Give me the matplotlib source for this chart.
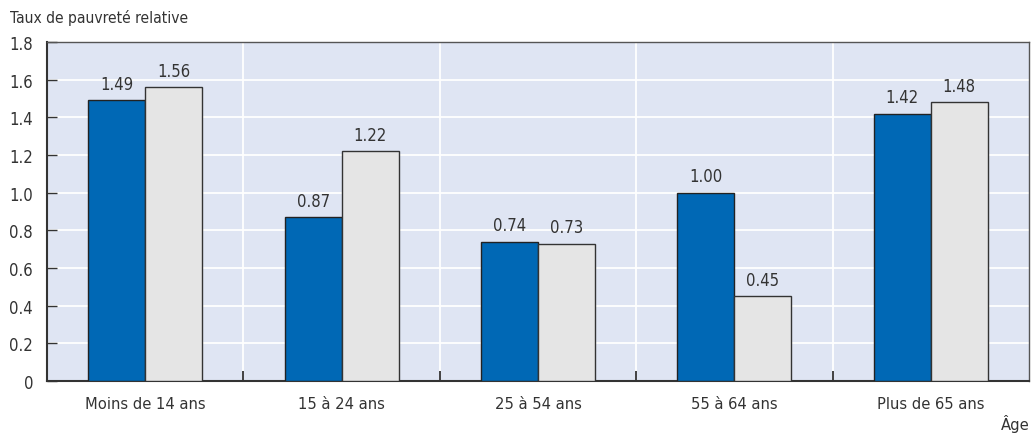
import matplotlib
matplotlib.use("Agg")
import matplotlib.pyplot as plt
import numpy as np

categories = ["Moins de 14 ans", "15 à 24 ans", "25 à 54 ans", "55 à 64 ans", "Plus de 65 ans"]
series_a = [1.49, 0.87, 0.74, 1.00, 1.42]
series_b = [1.56, 1.22, 0.73, 0.45, 1.48]
yticks = [0, 0.2, 0.4, 0.6, 0.8, 1.0, 1.2, 1.4, 1.6, 1.8]
ytick_labels = ["0", "0.2", "0.4", "0.6", "0.8", "1.0", "1.2", "1.4", "1.6", "1.8"]

plt.rcParams['font.family'] = ['DejaVu Sans']
plt.rcParams['font.stretch'] = 'condensed'
text_color = "#333333"
blue = "#0068b5"
grey = "#e5e5e5"
bg = "#dfe5f3"

fig = plt.figure(figsize=(10.35, 4.35), dpi=100)
ax = fig.add_axes([47/1035, 53/435, 982/1035, 339/435])
ax.set_facecolor(bg)

x = np.arange(len(categories))
w = 0.29
bars_a = ax.bar(x - w/2, series_a, w, color=blue, edgecolor="#222222", linewidth=1.0, zorder=3)
bars_b = ax.bar(x + w/2, series_b, w, color=grey, edgecolor="#333333", linewidth=1.0, zorder=3)

for b, v in zip(bars_a, series_a):
    ax.text(b.get_x() + b.get_width()/2, v + 0.04, f"{v:.2f}", ha="center", va="bottom",
            fontsize=12, color=text_color, zorder=4)
for b, v in zip(bars_b, series_b):
    ax.text(b.get_x() + b.get_width()/2, v + 0.04, f"{v:.2f}", ha="center", va="bottom",
            fontsize=12, color=text_color, zorder=4)

ax.set_xlim(-0.5, len(categories) - 0.5)
ax.set_ylim(0, 1.8)
ax.set_yticks(yticks)
ax.set_yticklabels(ytick_labels)
ax.grid(axis="y", color="white", linewidth=1.3, zorder=1)

# white separators between age groups, with short ticks at the base
bounds = np.arange(0.5, len(categories) - 0.5, 1)
for bx in bounds:
    ax.axvline(bx, color="white", linewidth=1.3, zorder=1)
ax.set_xticks(bounds, minor=True)
ax.set_xticks(x)
ax.set_xticklabels(categories)
ax.tick_params(axis="x", which="major", length=0, pad=11, labelsize=11.8, labelcolor=text_color)
ax.tick_params(axis="x", which="minor", direction="in", length=7, width=1.3, color="#333333")
ax.tick_params(axis="y", direction="in", length=7, width=1.0, color="#333333",
               labelsize=12, labelcolor=text_color, pad=10)

for s in ["left", "bottom"]:
    ax.spines[s].set_color("#333333")
    ax.spines[s].set_linewidth(1.5)
for s in ["top", "right"]:
    ax.spines[s].set_color("#555555")
    ax.spines[s].set_linewidth(1.0)

fig.text(10/1035, 1 - 18/435, "Taux de pauvreté relative", ha="left", va="center",
         fontsize=11.2, color=text_color)
fig.text(1030/1035, 2/435, "Âge", ha="right", va="bottom", fontsize=11.8, color=text_color)

fig.savefig("out.png", dpi=100, facecolor="white")
